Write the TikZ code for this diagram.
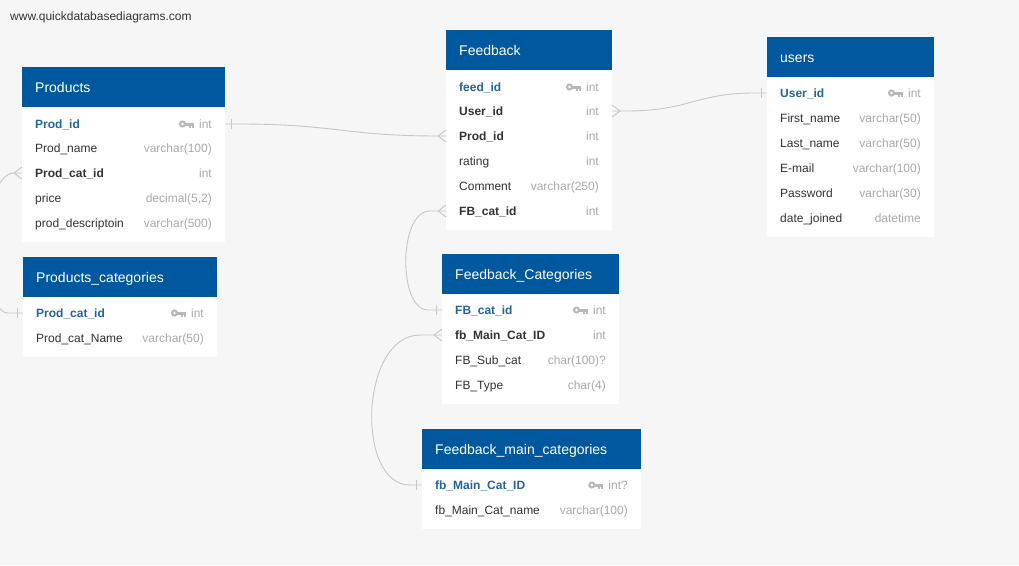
\documentclass[tikz,border=0pt]{standalone}
\usepackage{fontspec}
\setmainfont{Liberation Sans}
\definecolor{hdrblue}{RGB}{0,88,159}
\definecolor{bgc}{RGB}{246,246,246}
\definecolor{pkblue}{RGB}{36,100,160}
\definecolor{fldtxt}{RGB}{51,51,51}
\definecolor{typtxt}{RGB}{170,170,170}
\definecolor{conn}{RGB}{198,198,198}
\definecolor{keygray}{RGB}{185,185,185}
\tikzset{
  hdrbox/.style={fill=hdrblue, draw=none, inner sep=0pt, outer sep=0pt, anchor=north west},
  bodybox/.style={fill=white, draw=none, inner sep=0pt, outer sep=0pt, anchor=north west},
  ttl/.style={text=white, font=\fontsize{14}{16}\selectfont, inner sep=0pt, anchor=base west},
  fld/.style={text=fldtxt, font=\fontsize{12}{14}\selectfont, inner sep=0pt, anchor=base west},
  pkf/.style={text=pkblue, font=\fontsize{12}{14}\selectfont\bfseries},
  fkf/.style={font=\fontsize{12}{14}\selectfont\bfseries},
  typ/.style={text=typtxt, font=\fontsize{12}{14}\selectfont, inner sep=0pt, anchor=base east},
  link/.style={draw=conn, line width=0.9pt},
}
% #1 name, #2 x-left, #3 y-top, #4 width, #5 body height, #6 title
\newcommand\dbtable[6]{%
  \node[hdrbox, minimum width=#4pt, minimum height=40pt] (#1h) at (#2,#3) {};
  \node[bodybox, minimum width=#4pt, minimum height=#5pt] (#1b) at (#2,#3+40) {};
  \node[ttl] (#1ht) at (#2+13,#3+25) {#6};
}
% #1 id, #2 xl, #3 xr, #4 y, #5 style, #6 field, #7 type
\newcommand\dbrow[7]{%
  \node[fld,#5] (#1n) at (#2+13,#4+4.3) {#6};
  \node[typ] (#1t) at (#3-13,#4+4.3) {#7};
  \coordinate (#1L) at (#2,#4);
  \coordinate (#1R) at (#3,#4);
}
\newcommand\pkkey[1]{%
  \begin{scope}[shift={([xshift=-20pt,yshift=4.3pt]#1t.base west)}]
    \fill[keygray] (3.6,0) circle (3.6pt);
    \fill[white] (3.6,0) circle (1.4pt);
    \fill[keygray] (6,-1.5) rectangle (15,1.5);
    \fill[keygray] (10,1.5) rectangle (11.6,3.6);
    \fill[keygray] (13.2,1.5) rectangle (15,3.6);
  \end{scope}}
\newcommand\crowL[1]{\draw[link] ([yshift=6pt]#1) -- ([xshift=-8pt]#1) -- ([yshift=-6pt]#1);}
\newcommand\crowR[1]{\draw[link] ([yshift=6pt]#1) -- ([xshift=8pt]#1) -- ([yshift=-6pt]#1);}
\newcommand\barL[1]{\draw[link] ([xshift=-6pt,yshift=5pt]#1) -- ([xshift=-6pt,yshift=-5pt]#1);}
\newcommand\barR[1]{\draw[link] ([xshift=6pt,yshift=5pt]#1) -- ([xshift=6pt,yshift=-5pt]#1);}
\begin{document}
\begin{tikzpicture}[x=1pt,y=-1pt]
\useasboundingbox (0,0) rectangle (1019,565);
\clip (0,0) rectangle (1019,565);
\fill[bgc] (0,0) rectangle (1019,565);

\node[fld] (wm) at (10,20.3) {www.quickdatabasediagrams.com};

% Products
\dbtable{p}{22}{67}{203}{135}{Products}
\dbrow{pid}{22}{225}{124}{pkf}{Prod\_id}{int}\pkkey{pid}
\dbrow{pname}{22}{225}{148}{}{Prod\_name}{varchar(100)}
\dbrow{pcat}{22}{225}{173}{fkf}{Prod\_cat\_id}{int}
\dbrow{pprice}{22}{225}{198}{}{price}{decimal(5,2)}
\dbrow{pdesc}{22}{225}{223}{}{prod\_descriptoin}{varchar(500)}

% Products_categories
\dbtable{pc}{23}{257}{194}{60}{Products\_categories}
\dbrow{pcid}{23}{217}{313}{pkf}{Prod\_cat\_id}{int}\pkkey{pcid}
\dbrow{pcname}{23}{217}{338}{}{Prod\_cat\_Name}{varchar(50)}

% Feedback
\dbtable{f}{446}{30}{166}{160}{Feedback}
\dbrow{fid}{446}{612}{87}{pkf}{feed\_id}{int}\pkkey{fid}
\dbrow{fuser}{446}{612}{111}{fkf}{User\_id}{int}
\dbrow{fprod}{446}{612}{136}{fkf}{Prod\_id}{int}
\dbrow{frate}{446}{612}{161}{}{rating}{int}
\dbrow{fcom}{446}{612}{186}{}{Comment}{varchar(250)}
\dbrow{fcat}{446}{612}{211}{fkf}{FB\_cat\_id}{int}

% users
\dbtable{u}{767}{37}{167}{160}{users}
\dbrow{uid}{767}{934}{93}{pkf}{User\_id}{int}\pkkey{uid}
\dbrow{ufirst}{767}{934}{118}{}{First\_name}{varchar(50)}
\dbrow{ulast}{767}{934}{143}{}{Last\_name}{varchar(50)}
\dbrow{umail}{767}{934}{168}{}{E-mail}{varchar(100)}
\dbrow{upass}{767}{934}{193}{}{Password}{varchar(30)}
\dbrow{udate}{767}{934}{218}{}{date\_joined}{datetime}

% Feedback_Categories
\dbtable{fc}{442}{254}{177}{110}{Feedback\_Categories}
\dbrow{fcid}{442}{619}{310}{pkf}{FB\_cat\_id}{int}\pkkey{fcid}
\dbrow{fcmain}{442}{619}{335}{fkf}{fb\_Main\_Cat\_ID}{int}
\dbrow{fcsub}{442}{619}{360}{}{FB\_Sub\_cat}{char(100)?}
\dbrow{fctype}{442}{619}{385}{}{FB\_Type}{char(4)}

% Feedback_main_categories
\dbtable{fm}{422}{429}{219}{60}{Feedback\_main\_categories}
\dbrow{fmid}{422}{641}{485}{pkf}{fb\_Main\_Cat\_ID}{int?}\pkkey{fmid}
\dbrow{fmname}{422}{641}{510}{}{fb\_Main\_Cat\_name}{varchar(100)}

% connectors
\draw[link] (pidR) -- ([xshift=14pt]pidR) .. controls (335,124) and (345,136) .. ([xshift=-8pt]fprodL) -- (fprodL);
\barR{pidR}\crowL{fprodL}

\draw[link] (fuserR) -- ([xshift=14pt]fuserR) .. controls (690,111) and (695,93) .. ([xshift=-12pt]uidL) -- (uidL);
\crowR{fuserR}\barL{uidL}

\draw[link] (fcatL) -- ([xshift=-16pt]fcatL) .. controls (398,211) and (398,310) .. ([xshift=-14pt]fcidL) -- (fcidL);
\crowL{fcatL}\barL{fcidL}

\draw[link] (fcmainL) -- ([xshift=-22pt]fcmainL) .. controls (360,335) and (355,485) .. ([xshift=-12pt]fmidL) -- (fmidL);
\crowL{fcmainL}\barL{fmidL}

\draw[link] (pcatL) -- ([xshift=-8pt]pcatL) .. controls (-20,173) and (-20,313) .. ([xshift=-15pt]pcidL) -- (pcidL);
\crowL{pcatL}\barL{pcidL}
\end{tikzpicture}
\end{document}
